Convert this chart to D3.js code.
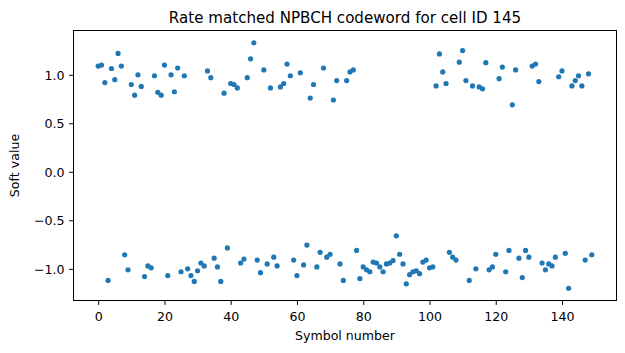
<!DOCTYPE html>
<html>
<head>
<meta charset="utf-8">
<script src="https://cdn.jsdelivr.net/npm/d3@7"></script>
<style>
  body { margin: 0; background: #fff; }
  svg { display: block; font-family: "DejaVu Sans", sans-serif; }
</style>
</head>
<body>
<svg id="chart" width="625" height="353"></svg>
<script>
// soft value per symbol, index = symbol number (0..149)
var softValues = [
  1.09, 1.10, 0.92, -1.12, 1.065, 0.95, 1.22, 1.09, -0.855, -1.01,
  0.90, 0.79, 1.00, 0.88, -1.08, -0.97, -0.99, 0.99, 0.82, 0.79,
  1.10, -1.07, 1.00, 0.825, 1.07, -1.03, 0.99, -1.00, -1.07, -1.13,
  -1.02, -0.94, -0.97, 1.04, 0.97, -0.89, -0.98, -1.13, 0.81, -0.785,
  0.91, 0.90, 0.865, -0.94, -0.90, 0.97, 1.165, 1.33, -0.91, -1.04,
  1.05, -0.95, 0.865, -0.88, -0.97, 0.875, 0.91, 1.11, 0.99, -0.91,
  -1.07, 1.02, -0.96, -0.755, 0.76, 0.90, -0.98, -0.83, 1.07, -0.88,
  -0.85, 0.74, 0.94, -0.95, -1.12, 0.94, 1.03, 1.05, -0.81, -1.10,
  -0.98, -1.01, -1.03, -0.93, -0.94, -0.98, -1.03, -0.95, -0.94, -0.915,
  -0.66, -0.85, -0.95, -1.155, -1.06, -1.03, -1.02, -1.05, -0.93, -0.91,
  -0.99, -0.98, 0.885, 1.215, 1.03, 0.91, -0.83, -0.88, -0.91, 1.13,
  1.25, 0.94, -1.12, 0.885, -1.00, 0.875, 0.855, 1.125, -1.01, -0.98,
  -0.85, 0.96, 1.08, -1.03, -0.81, 0.69, 1.05, -0.89, -1.09, -0.81,
  -0.88, 1.09, 1.11, 0.93, -0.94, -1.01, -0.95, -0.97, -0.88, 0.98,
  1.04, -0.84, -1.20, 0.885, 0.94, 0.99, 0.885, -0.91, 1.01, -0.855
];
var xTicks = [0, 20, 40, 60, 80, 100, 120, 140];
var yTicks = [-1.0, -0.5, 0.0, 0.5, 1.0];

var titleText = 'Rate matched NPBCH codeword for cell ID 145';
var xLabel = 'Symbol number';
var yLabel = 'Soft value';

var svg = d3.select('#chart');
var margins = { top: 30.5, left: 73.5, right: 8.5, bottom: 52.5 };
var width = +svg.attr('width') - margins.left - margins.right;
var height = +svg.attr('height') - margins.top - margins.bottom;
var color = '#1f77b4';

// matplotlib style 5% margins
var n = softValues.length;
var xPad = (n - 1) * 0.05;
var ext = d3.extent(softValues);
var yPad = (ext[1] - ext[0]) * 0.05;

var x = d3.scaleLinear().domain([-xPad, n - 1 + xPad]).range([0, width]);
var y = d3.scaleLinear().domain([ext[0] - yPad, ext[1] + yPad]).range([height, 0]);

var plot = svg.append('g')
  .attr('transform', 'translate(' + margins.left + ',' + margins.top + ')');

var fmt = function (d) { return d3.format('.1f')(d).replace('-', '\u2212'); };

var xAxis = plot.append('g')
  .attr('transform', 'translate(0,' + height + ')')
  .call(d3.axisBottom(x).tickValues(xTicks).tickSize(4.4).tickPadding(7));

var yAxis = plot.append('g')
  .call(d3.axisLeft(y).tickValues(yTicks).tickFormat(fmt).tickSize(4.4).tickPadding(4.6));

[xAxis, yAxis].forEach(function (a) {
  a.select('.domain').remove();
  a.selectAll('.tick line').attr('stroke', '#000').attr('stroke-width', 1);
  a.selectAll('.tick text')
    .attr('fill', '#000')
    .style('font-size', '12.6px')
    .style('font-family', '"DejaVu Sans", sans-serif');
});
yAxis.selectAll('.tick text').attr('dy', '0.36em');

// points
plot.append('g')
  .selectAll('circle')
  .data(softValues)
  .enter()
  .append('circle')
  .attr('cx', function (d, i) { return x(i); })
  .attr('cy', function (d) { return y(d); })
  .attr('r', 2.6)
  .attr('fill', color);

// frame
plot.append('rect')
  .attr('width', width)
  .attr('height', height)
  .attr('fill', 'none')
  .attr('stroke', '#000')
  .attr('stroke-width', 1);

// title and labels
svg.append('text')
  .attr('x', margins.left + width / 2)
  .attr('y', 22.5)
  .attr('text-anchor', 'middle')
  .style('font-size', '15.1px')
  .text(titleText);

svg.append('text')
  .attr('x', margins.left + width / 2)
  .attr('y', 339.5)
  .attr('text-anchor', 'middle')
  .style('font-size', '12.6px')
  .text(xLabel);

svg.append('text')
  .attr('transform', 'translate(18.5,' + (margins.top + height / 2) + ') rotate(-90)')
  .attr('text-anchor', 'middle')
  .style('font-size', '12.6px')
  .text(yLabel);
</script>
</body>
</html>
